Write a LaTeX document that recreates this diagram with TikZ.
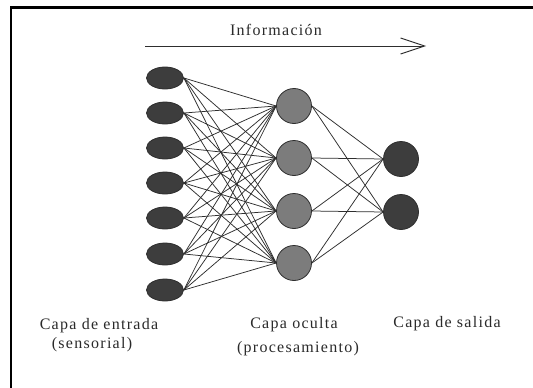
\documentclass[tikz,border=0pt]{standalone}
\usepackage{fontspec}
\setmainfont{Liberation Serif}
\usetikzlibrary{arrows.meta,shapes.geometric,backgrounds}
\definecolor{darkfill}{HTML}{3D3D3D}
\definecolor{midfill}{HTML}{7C7C7C}
\definecolor{edgecol}{HTML}{2E2E2E}
\definecolor{inkcol}{HTML}{2A2A2A}
\newfontfamily\spacedfont[LetterSpace=8]{Liberation Serif}
\begin{document}
\begin{tikzpicture}[x=1pt,y=-1pt,
  inneuron/.style={ellipse,draw=edgecol,line width=0.8pt,fill=darkfill,minimum width=37pt,minimum height=22pt,inner sep=0pt},
  hidneuron/.style={circle,draw=edgecol,line width=0.8pt,fill=midfill,minimum size=35pt,inner sep=0pt},
  outneuron/.style={circle,draw=edgecol,line width=0.8pt,fill=darkfill,minimum size=35pt,inner sep=0pt},
  link/.style={draw=edgecol,line width=0.75pt},
  lbl/.style={font=\fontsize{16}{18}\spacedfont,text=inkcol,anchor=base,inner sep=0pt},
  frameline/.style={line width=2.5pt,black}
]
\useasboundingbox (0,0) rectangle (533,388);
\draw[frameline] (533,7.5) -- (11,7.5) -- (11,388);

% arrow
\coordinate (a1) at (145,46);
\coordinate (a2) at (426,46);
\draw[line width=0.9pt,draw=edgecol,-{Straight Barb[length=24pt,width=16pt,line width=0.9pt]}] (a1) -- (a2);
\node[lbl] (info) at (276,35) {Información};

% input layer
\foreach \i/\y in {1/78,2/113,3/148,4/183,5/218,6/254,7/290}{
  \node[inneuron] (i\i) at (165,\y) {};
}
% hidden layer
\foreach \j/\y in {1/106,2/158,3/211,4/263}{
  \node[hidneuron] (h\j) at (294,\y) {};
}
% output layer
\foreach \k/\y in {1/159,2/212}{
  \node[outneuron] (o\k) at (401,\y) {};
}

\begin{scope}[on background layer]
\fill[white] (0,0) rectangle (533,388);
\foreach \i in {1,...,7}{
  \foreach \j in {1,...,4}{
    \draw[link] (i\i.east) -- (h\j.west);
  }
}
\foreach \j in {1,...,4}{
  \foreach \k in {1,2}{
    \draw[link] (h\j.east) -- (o\k.west);
  }
}
\end{scope}

% labels
\node[lbl] (l1a) at (99,329) {Capa de entrada};
\node[lbl] (l1b) at (92,348) {(sensorial)};
\node[lbl] (l2a) at (294,328) {Capa oculta};
\node[lbl] (l2b) at (298,352) {(procesamiento)};
\node[lbl] (l3a) at (447,327) {Capa de salida};
\end{tikzpicture}
\end{document}
